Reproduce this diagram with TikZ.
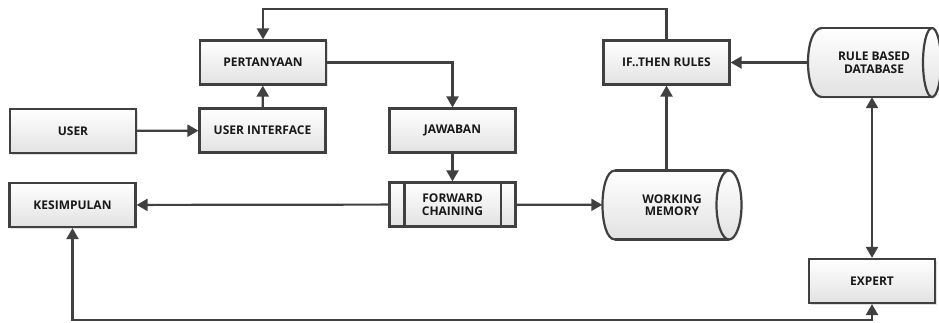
\documentclass[tikz,border=0pt]{standalone}
\usepackage{fontspec}
\setsansfont{Open Sans}[BoldFont={* Bold}]
\usetikzlibrary{arrows.meta,shadows,calc}
\definecolor{ln}{HTML}{404040}
\definecolor{fl}{HTML}{E2E2E2}
\begin{document}
\begin{tikzpicture}[x=1pt,y=-1pt,
  lbl/.style={font=\sffamily\bfseries\fontsize{12}{12.5}\selectfont, text=black!90, align=center},
  box/.style={lbl, draw=ln, line width=2.2pt, top color=white, bottom color=fl,
     minimum width=126pt, minimum height=44pt, inner sep=0pt,
     drop shadow={shadow xshift=1.5pt, shadow yshift=-1.5pt, opacity=0.25}},
  cyl/.style={lbl, draw=none, inner sep=0pt},
  arr/.style={draw=ln, line width=2.2pt, -{Triangle[length=11pt,width=12pt]}},
  arrb/.style={draw=ln, line width=2.2pt, {Triangle[length=11pt,width=12pt]}-{Triangle[length=11pt,width=12pt]}},
  cylline/.style={draw=ln, line width=2.2pt}
]
\useasboundingbox (0,0) rectangle (939,322);

% rectangles
\node[box] (user) at (73,131) {USER};
\node[box] (ui)   at (262.5,130.5) {USER INTERFACE};
\node[box] (per)  at (263,62.5) {PERTANYAAN};
\node[box] (jaw)  at (452.5,130.5) {JAWABAN};
\node[box] (fc)   at (452.5,204.5) {FORWARD\\CHAINING};
\node[box] (kes)  at (72.5,205) {KESIMPULAN};
\node[box] (ifr)  at (666.5,62.5) {IF..THEN RULES};
\node[box] (exp)  at (872,281) {EXPERT};
\draw[cylline] ($(fc.north west)+(16,0)$) -- ($(fc.south west)+(16,0)$);
\draw[cylline] ($(fc.north east)+(-16,0)$) -- ($(fc.south east)+(-16,0)$);

% working memory cylinder
\fill[gray!40,opacity=0.35] (616.5,172) -- (730.5,172) .. controls (747.2,172) and (747.2,241) .. (730.5,241)
   -- (616.5,241) .. controls (599.8,241) and (599.8,172) .. (616.5,172) -- cycle;
\path[top color=white, bottom color=fl] (615,170.5) -- (729,170.5) .. controls (745.7,170.5) and (745.7,239.5) .. (729,239.5)
   -- (615,239.5) .. controls (598.3,239.5) and (598.3,170.5) .. (615,170.5) -- cycle;
\draw[cylline] (615,170.5) -- (729,170.5) (615,239.5) -- (729,239.5);
\draw[cylline] (615,170.5) .. controls (598.3,170.5) and (598.3,239.5) .. (615,239.5);
\draw[cylline] (729,205) ellipse[x radius=12.5, y radius=34.5];
\node[cyl, minimum width=139pt, minimum height=69pt] (wm) at (672,205) {WORKING\\MEMORY};

% rule based database cylinder
\fill[gray!40,opacity=0.35] (823.5,29.5) -- (933.5,29.5) .. controls (945.5,29.5) and (945.5,98.5) .. (933.5,98.5)
   -- (823.5,98.5) .. controls (804.8,98.5) and (804.8,29.5) .. (823.5,29.5) -- cycle;
\path[top color=white, bottom color=fl] (822,28) -- (932,28) .. controls (944,28) and (944,97) .. (932,97)
   -- (822,97) .. controls (803.3,97) and (803.3,28) .. (822,28) -- cycle;
\draw[cylline] (822,28) -- (932,28) (822,97) -- (932,97);
\draw[cylline] (822,28) .. controls (803.3,28) and (803.3,97) .. (822,97);
\draw[cylline] (932,62.5) ellipse[x radius=9, y radius=34.5];
\node[cyl, minimum width=134pt, minimum height=69pt] (db) at (874,62.5) {RULE BASED\\DATABASE};

% helper coordinates
\coordinate (top) at (0,9);
\coordinate (bot) at (0,320);

% connectors
\draw[arr] (user) -- (ui);
\draw[arr] (ui) -- (per);
\draw[arr] (per.east) -| (jaw.north);
\draw[arr] (jaw) -- (fc);
\draw[arr] (fc) -- (kes);
\draw[arr] (fc) -- (wm);
\draw[arr] (wm.north -| ifr.south) -- (ifr.south);
\draw[arr] (ifr.north) -- (ifr.north |- top) -| (per.north);
\draw[arr] (db.west) -- (ifr.east);
\draw[arrb] (exp.north) -- (exp.north |- db.south);
\draw[arrb] (kes.south) -- (kes.south |- bot) -| (exp.south);
\end{tikzpicture}
\end{document}
